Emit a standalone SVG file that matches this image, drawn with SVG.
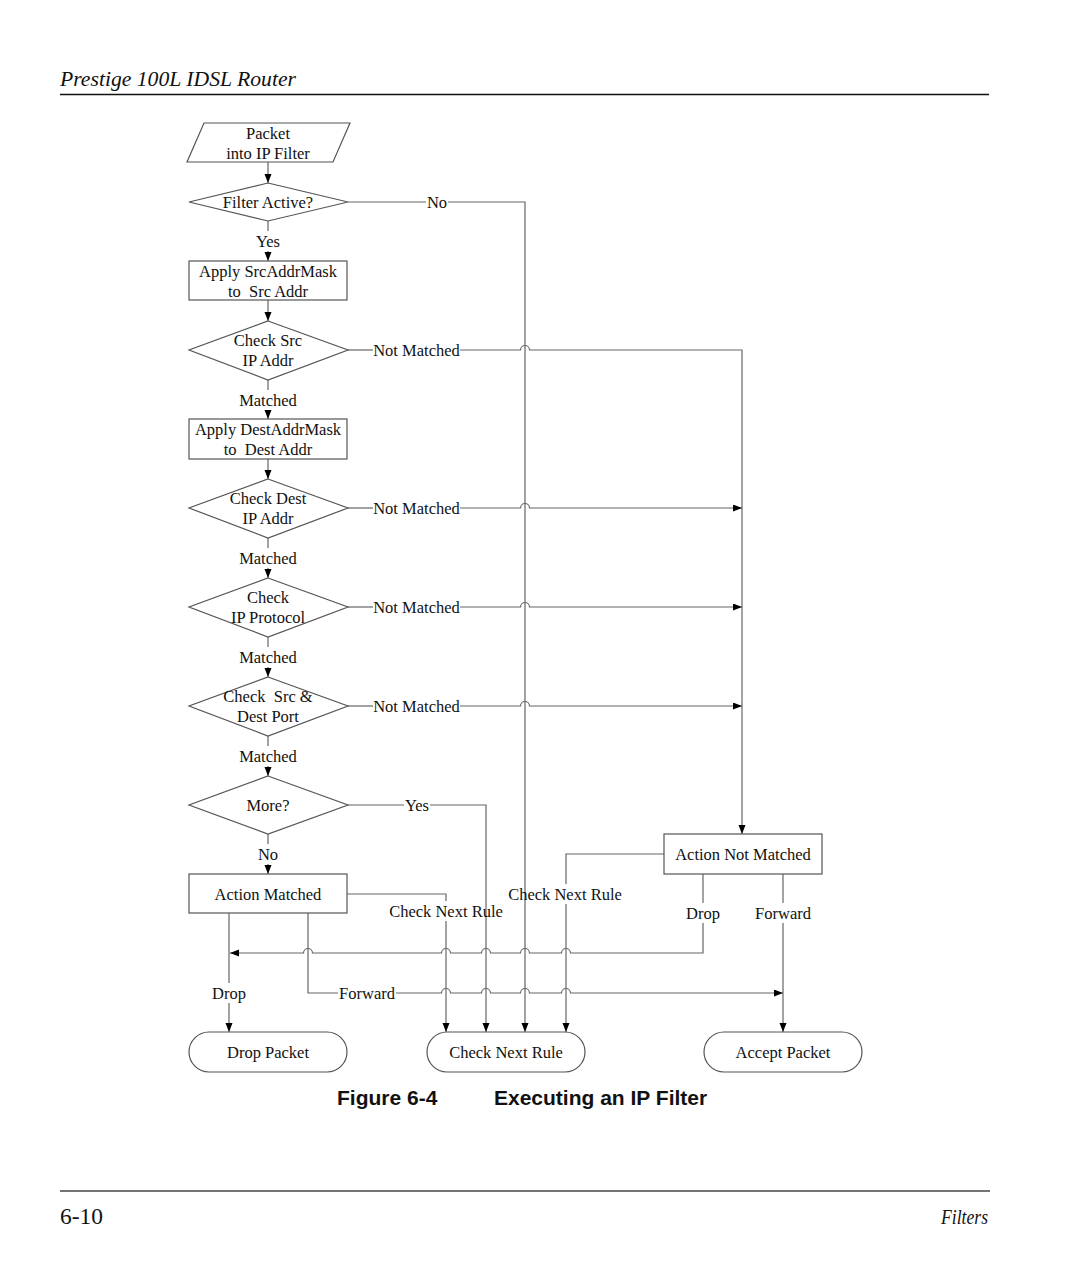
<svg xmlns="http://www.w3.org/2000/svg" width="1080" height="1281" viewBox="0 0 1080 1281">
<style>
text{font-family:"Liberation Serif","Times New Roman",serif;font-size:16.5px;fill:#111;white-space:pre;}
.c{text-anchor:middle;}
.shape{fill:#fff;stroke:#555;stroke-width:1.2;}
.ln{fill:none;stroke:#666;stroke-width:1.2;}
.ar{marker-end:url(#ah);}
.cap{font-family:"Liberation Sans",Arial,sans-serif;font-weight:bold;font-size:21px;}
</style>
<defs>
<marker id="ah" markerWidth="10" markerHeight="8" refX="9" refY="3.5" orient="auto" markerUnits="userSpaceOnUse">
<path d="M0,0 L9,3.5 L0,7 z" fill="#000"/>
</marker>
</defs>
<rect width="1080" height="1281" fill="#fff"/>

<!-- page header/footer -->
<text x="60" y="86" style="font-style:italic;font-size:20px" textLength="236" lengthAdjust="spacingAndGlyphs">Prestige 100L IDSL Router</text>
<line x1="60" y1="94.5" x2="989" y2="94.5" stroke="#111" stroke-width="1.3"/>
<line x1="60" y1="1191" x2="990" y2="1191" stroke="#444" stroke-width="1.6"/>
<text x="60" y="1224" style="font-size:23px" textLength="43" lengthAdjust="spacingAndGlyphs">6-10</text>
<text x="988" y="1224" style="font-style:italic;font-size:22px;text-anchor:end" textLength="47" lengthAdjust="spacingAndGlyphs">Filters</text>
<text class="cap" x="337" y="1105">Figure 6-4</text>
<text class="cap" x="494" y="1105">Executing an IP Filter</text>

<!-- connectors -->
<g id="connectors">
<line class="ln ar" x1="268" y1="162" x2="268" y2="183"/>
<line class="ln" x1="268" y1="221" x2="268" y2="231"/>
<line class="ln ar" x1="268" y1="251" x2="268" y2="261"/>
<line class="ln ar" x1="268" y1="300" x2="268" y2="321"/>
<line class="ln" x1="268" y1="380" x2="268" y2="390"/>
<line class="ln ar" x1="268" y1="410" x2="268" y2="419"/>
<line class="ln ar" x1="268" y1="459" x2="268" y2="479"/>
<line class="ln" x1="268" y1="538" x2="268" y2="548"/>
<line class="ln ar" x1="268" y1="568" x2="268" y2="578"/>
<line class="ln" x1="268" y1="637" x2="268" y2="647"/>
<line class="ln ar" x1="268" y1="667" x2="268" y2="677"/>
<line class="ln" x1="268" y1="736" x2="268" y2="746"/>
<line class="ln ar" x1="268" y1="766" x2="268" y2="776"/>
<line class="ln" x1="268" y1="834" x2="268" y2="844"/>
<line class="ln ar" x1="268" y1="864" x2="268" y2="874"/>

<!-- Filter Active? No -->
<line class="ln" x1="348" y1="202" x2="426" y2="202"/>
<path class="ln ar" d="M448,202 H525 V1032"/>

<!-- Not Matched branches -->
<line class="ln" x1="348" y1="350" x2="373" y2="350"/>
<path class="ln ar" d="M460,350 H520.5 A4.5,4.5 0 0 1 529.5,350 H742 V834"/>
<line class="ln" x1="348" y1="508" x2="373" y2="508"/>
<path class="ln ar" d="M460,508 H520.5 A4.5,4.5 0 0 1 529.5,508 H742"/>
<line class="ln" x1="348" y1="607" x2="373" y2="607"/>
<path class="ln ar" d="M460,607 H520.5 A4.5,4.5 0 0 1 529.5,607 H742"/>
<line class="ln" x1="348" y1="706" x2="373" y2="706"/>
<path class="ln ar" d="M460,706 H520.5 A4.5,4.5 0 0 1 529.5,706 H742"/>

<!-- More? Yes -->
<line class="ln" x1="348" y1="805" x2="404" y2="805"/>
<path class="ln ar" d="M430,805 H486 V1032"/>

<!-- Action Matched -> Check Next Rule -->
<path class="ln" d="M347,894 H446 V901"/>
<line class="ln ar" x1="446" y1="921" x2="446" y2="1032"/>

<!-- Action Not Matched -> Check Next Rule -->
<path class="ln" d="M664,854 H566 V884"/>
<line class="ln ar" x1="566" y1="904" x2="566" y2="1032"/>

<!-- Action Matched Drop -->
<line class="ln" x1="229" y1="913" x2="229" y2="983"/>
<line class="ln ar" x1="229" y1="1003" x2="229" y2="1032"/>

<!-- Action Matched Forward -->
<path class="ln" d="M308,913 V993 H338"/>
<path class="ln ar" d="M396,993 H441.5 A4.5,4.5 0 0 1 450.5,993 H481.5 A4.5,4.5 0 0 1 490.5,993 H520.5 A4.5,4.5 0 0 1 529.5,993 H561.5 A4.5,4.5 0 0 1 570.5,993 H783"/>

<!-- Action Not Matched Drop -->
<line class="ln" x1="703" y1="874" x2="703" y2="903"/>
<path class="ln ar" d="M703,923 V953 H570.5 A4.5,4.5 0 0 0 561.5,953 H529.5 A4.5,4.5 0 0 0 520.5,953 H490.5 A4.5,4.5 0 0 0 481.5,953 H450.5 A4.5,4.5 0 0 0 441.5,953 H312.5 A4.5,4.5 0 0 0 303.5,953 H230"/>

<!-- Action Not Matched Forward -->
<line class="ln" x1="783" y1="874" x2="783" y2="903"/>
<line class="ln ar" x1="783" y1="923" x2="783" y2="1032"/>

<!-- labels -->
<text class="c" x="437" y="207.5">No</text>
<text class="c" x="268" y="246.5">Yes</text>
<text class="c" x="416.5" y="355.5">Not Matched</text>
<text class="c" x="268" y="405.5">Matched</text>
<text class="c" x="416.5" y="513.5">Not Matched</text>
<text class="c" x="268" y="563.5">Matched</text>
<text class="c" x="416.5" y="612.5">Not Matched</text>
<text class="c" x="268" y="662.5">Matched</text>
<text class="c" x="416.5" y="711.5">Not Matched</text>
<text class="c" x="268" y="761.5">Matched</text>
<text class="c" x="417" y="810.5">Yes</text>
<text class="c" x="268" y="859.5">No</text>
<text class="c" x="446" y="916.5">Check Next Rule</text>
<text class="c" x="565" y="899.5">Check Next Rule</text>
<text class="c" x="703" y="918.5">Drop</text>
<text class="c" x="783" y="918.5">Forward</text>
<text class="c" x="229" y="998.5">Drop</text>
<text class="c" x="367" y="998.5">Forward</text>
</g>

<!-- nodes -->
<g id="packet-in">
<path class="shape" d="M204,123 H350 L333,162 H187 Z"/>
<text class="c" x="268" y="138.5">Packet</text>
<text class="c" x="268" y="158.5">into IP Filter</text>
</g>
<g id="filter-active">
<path class="shape" d="M268,183 L348,202 L268,221 L189,202 Z"/>
<text class="c" x="268" y="207.5">Filter Active?</text>
</g>
<g id="apply-src">
<rect class="shape" x="189" y="261" width="158" height="39"/>
<text class="c" x="268" y="276.5">Apply SrcAddrMask</text>
<text class="c" x="268" y="296.5">to  Src Addr</text>
</g>
<g id="check-src">
<path class="shape" d="M268,321 L348,350 L268,380 L189,350 Z"/>
<text class="c" x="268" y="345.5">Check Src</text>
<text class="c" x="268" y="365.5">IP Addr</text>
</g>
<g id="apply-dest">
<rect class="shape" x="189" y="419" width="158" height="40"/>
<text class="c" x="268" y="434.5">Apply DestAddrMask</text>
<text class="c" x="268" y="454.5">to  Dest Addr</text>
</g>
<g id="check-dest">
<path class="shape" d="M268,479 L348,508 L268,538 L189,508 Z"/>
<text class="c" x="268" y="503.5">Check Dest</text>
<text class="c" x="268" y="523.5">IP Addr</text>
</g>
<g id="check-proto">
<path class="shape" d="M268,578 L348,607 L268,637 L189,607 Z"/>
<text class="c" x="268" y="602.5">Check</text>
<text class="c" x="268" y="622.5">IP Protocol</text>
</g>
<g id="check-port">
<path class="shape" d="M268,677 L348,706 L268,736 L189,706 Z"/>
<text class="c" x="268" y="701.5">Check  Src &amp;</text>
<text class="c" x="268" y="721.5">Dest Port</text>
</g>
<g id="more">
<path class="shape" d="M268,776 L348,805 L268,834 L189,805 Z"/>
<text class="c" x="268" y="810.5">More?</text>
</g>
<g id="action-matched">
<rect class="shape" x="189" y="874" width="158" height="39"/>
<text class="c" x="268" y="899.5">Action Matched</text>
</g>
<g id="action-not-matched">
<rect class="shape" x="664" y="834" width="158" height="40"/>
<text class="c" x="743" y="859.5">Action Not Matched</text>
</g>
<g id="drop-packet">
<rect class="shape" x="189" y="1032" width="158" height="40" rx="20" ry="20"/>
<text class="c" x="268" y="1057.5">Drop Packet</text>
</g>
<g id="check-next-rule">
<rect class="shape" x="427" y="1032" width="158" height="40" rx="20" ry="20"/>
<text class="c" x="506" y="1057.5">Check Next Rule</text>
</g>
<g id="accept-packet">
<rect class="shape" x="704" y="1032" width="158" height="40" rx="20" ry="20"/>
<text class="c" x="783" y="1057.5">Accept Packet</text>
</g>
</svg>
